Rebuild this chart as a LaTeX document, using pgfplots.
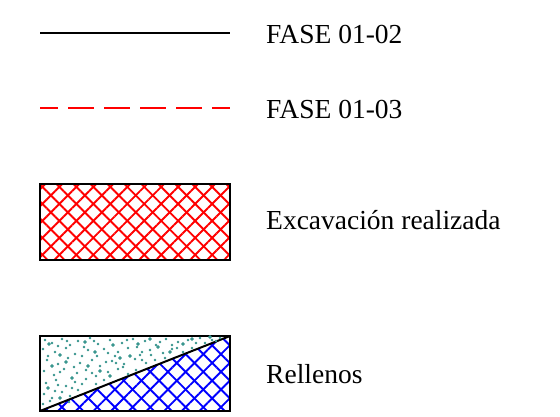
\documentclass[border=0pt]{standalone}
\usepackage{pgfplots}
\pgfplotsset{compat=1.18}
\usepackage{fontspec}
\setmainfont{Liberation Serif}
\usetikzlibrary{patterns.meta}
\definecolor{teald}{HTML}{3A968F}
\begin{document}
\begin{tikzpicture}
\begin{axis}[
  scale only axis, width=560pt, height=416pt,
  xmin=0, xmax=560, ymin=0, ymax=416, y dir=reverse,
  axis lines=none, clip=false,
  font=\fontsize{27.5}{33}\selectfont,
]
\path (rel axis cs:0,0) rectangle (rel axis cs:1,1);
% legend lines
\addplot[black, line width=2.2pt] coordinates {(40,33.3) (230,33.3)};
\addplot[red, line width=2.2pt, dash pattern=on 26pt off 10pt, dash phase=8pt] coordinates {(40,108.3) (230,108.3)};
% excavation box
\addplot[draw=none, pattern={Lines[angle=45, distance=12pt, line width=1.9pt]}, pattern color=red] coordinates {(40,184) (230,184) (230,260) (40,260)} --cycle;
\addplot[draw=none, pattern={Lines[angle=-45, distance=12pt, line width=1.9pt]}, pattern color=red] coordinates {(40,184) (230,184) (230,260) (40,260)} --cycle;
\addplot[black, line width=2pt, fill=none] coordinates {(40,184) (230,184) (230,260) (40,260)} --cycle;
% rellenos box: blue crosshatch below diagonal
\addplot[draw=none, pattern={Lines[angle=45, distance=12.5pt, line width=1.9pt]}, pattern color=blue] coordinates {(40,411) (230,336) (230,411)} --cycle;
\addplot[draw=none, pattern={Lines[angle=-45, distance=12.5pt, line width=1.9pt]}, pattern color=blue] coordinates {(40,411) (230,336) (230,411)} --cycle;
% dots above diagonal
\addplot[only marks, mark=*, mark size=1.0pt, teald, mark options={draw=none, fill=teald}] coordinates {
(45,340) (52,343) (62,339) (70,345) (78,341) (90,338) (98,344) (110,340) (122,343) (133,339)
(145,341) (156,345) (166,339) (178,342) (188,340) (200,338) (212,340) (220,338)
(43,349) (55,352) (66,348) (75,354) (88,350) (97,356) (104,349) (118,352) (128,348) (140,355)
(150,350) (163,353) (172,349) (183,352) (192,348)
(47,360) (58,364) (68,358) (80,363) (92,360) (100,366) (112,361) (124,364) (135,359) (146,363)
(155,360) (165,358)
(44,371) (54,375) (64,369) (77,373) (86,370) (96,376) (108,372) (118,369) (128,374) (136,370)
(46,383) (56,380) (66,386) (75,382) (86,379) (96,384) (104,380)
(44,394) (52,398) (62,392) (70,396) (78,390) (43,404) (50,401)
(58,346) (84,347) (115,356) (137,347) (160,342) (205,343) (60,372) (72,388) (116,363) (142,352)
(67,341) (94,341) (127,340) (172,345) (196,343) (216,341) (48,356) (82,356) (108,353) (177,348)
(74,367) (106,362) (142,360) (58,385) (82,384) (92,373) (69,402) (55,391) (123,367) (151,355)
};
\addplot[only marks, mark=*, mark size=1.7pt, teald, mark options={draw=none, fill=teald}] coordinates {
(49,344) (85,342) (113,345) (150,339) (183,344) (60,355) (95,352) (130,356) (170,352)
(52,366) (88,366) (120,358) (72,378) (100,371) (48,388) (60,398) (158,347) (210,337)
(138,344) (66,362) (110,376) (192,339)
};
\addplot[black, line width=2pt] coordinates {(40,411) (230,336)};
\addplot[black, line width=2pt, fill=none] coordinates {(40,336) (230,336) (230,411) (40,411)} --cycle;
% texts
\node[anchor=base west, inner sep=0pt] at (axis cs:266,43) {FASE 01-02};
\node[anchor=base west, inner sep=0pt] at (axis cs:266,118) {FASE 01-03};
\node[anchor=base west, inner sep=0pt] at (axis cs:266,229) {Excavación realizada};
\node[anchor=base west, inner sep=0pt] at (axis cs:266,383) {Rellenos};
\end{axis}
\end{tikzpicture}
\end{document}
